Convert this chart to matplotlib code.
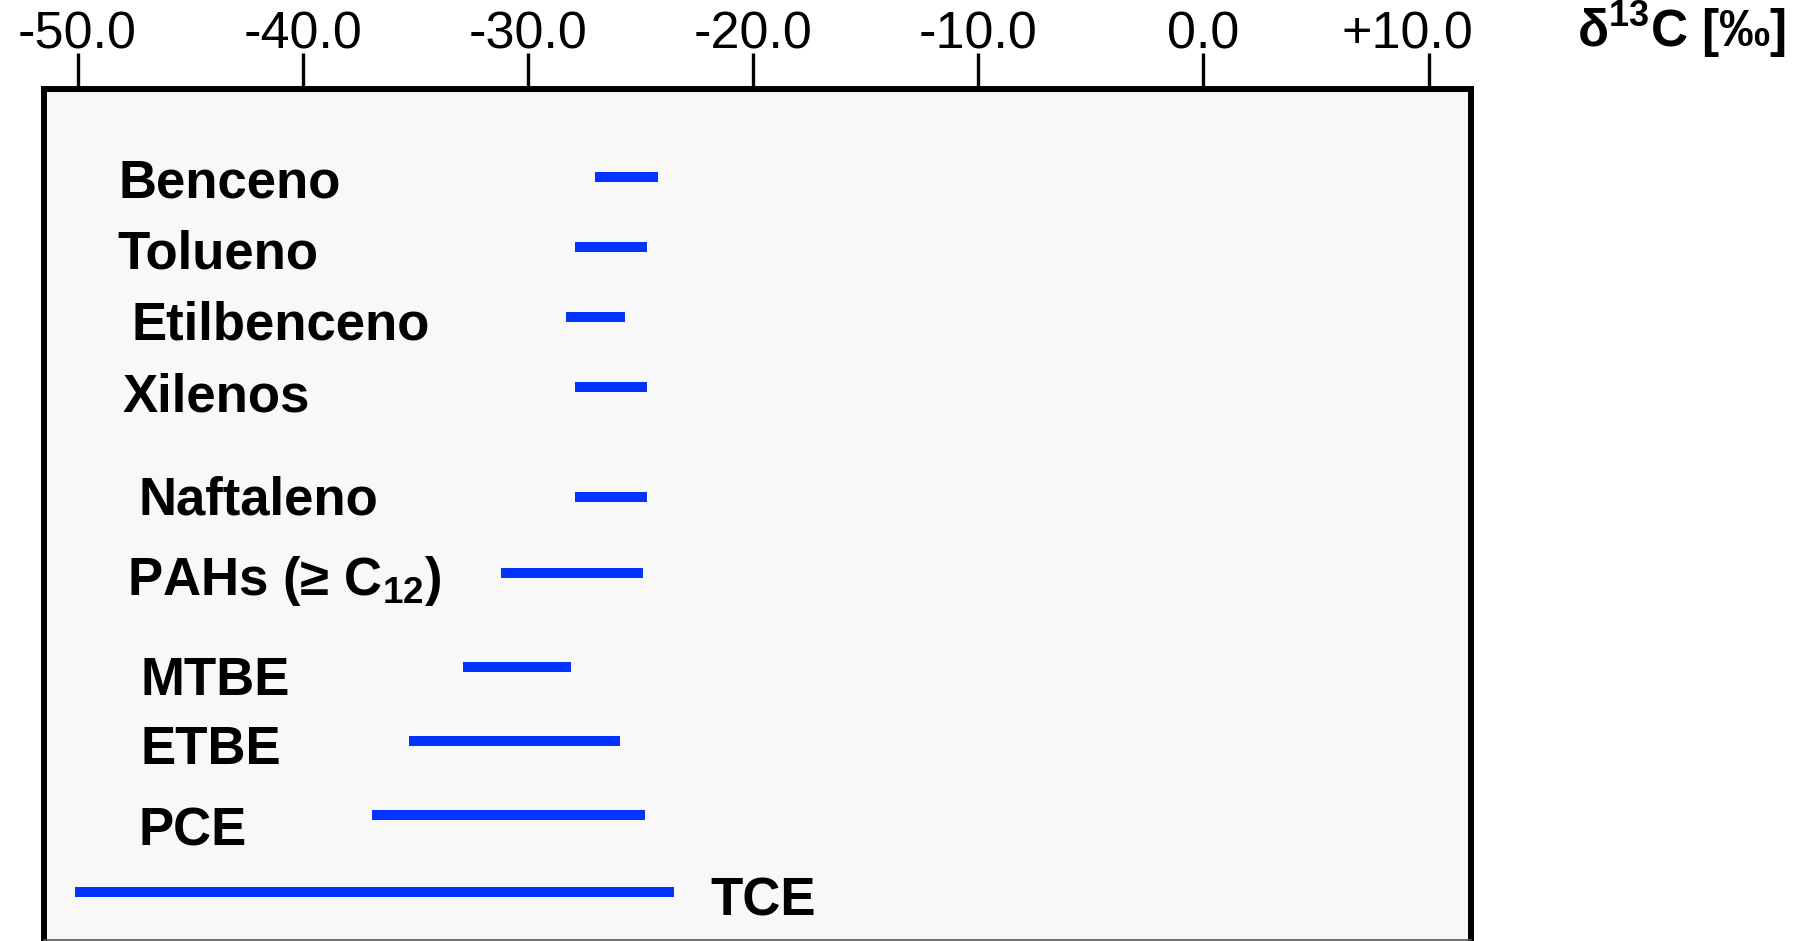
import matplotlib
matplotlib.use("Agg")
import matplotlib.pyplot as plt
import matplotlib.transforms as mtransforms

plt.rcParams["font.family"] = ["Liberation Sans", "DejaVu Sans"]
plt.rcParams["mathtext.fontset"] = "custom"
plt.rcParams["mathtext.rm"] = "Liberation Sans:bold"
plt.rcParams["mathtext.default"] = "rm"

# Compounds and their delta-13C ranges (per mil, VPDB)
compounds = ["Benceno", "Tolueno", "Etilbenceno", "Xilenos", "Naftaleno",
             "PAHs (≥ C$_{12}$)", "MTBE", "ETBE", "PCE", "TCE"]
d13c_min = [-27.0, -27.9, -28.3, -27.9, -27.9, -31.2, -32.9, -35.3, -36.9, -50.1]
d13c_max = [-24.2, -24.7, -25.7, -24.7, -24.7, -24.9, -28.1, -25.9, -24.8, -23.5]

tick_values = [-50, -40, -30, -20, -10, 0, 10]
tick_labels = ["-50.0", "-40.0", "-30.0", "-20.0", "-10.0", "0.0", "+10.0"]

# Vertical layout (row centres / label baselines, axis units from top)
row_y = [87.7, 157.7, 227.7, 298.0, 408.3, 483.7, 578.0, 652.3, 725.7, 803.0]
label_x = [-48.16, -48.23, -47.6, -48.0, -47.3, -47.78, -47.2, -47.2, -47.3, -21.88]
label_base = [108.3, 179.3, 251.0, 322.7, 425.3, 506.0, 606.0, 675.0, 756.7, 826.0]

W, H = 1801, 941
fig = plt.figure(figsize=(W / 100, H / 100), dpi=100)
fig.patch.set_facecolor("white")

ax_left, ax_right, ax_top, ax_bot = 43.5, 1470.5, 89.0, 940.0
ax = fig.add_axes([ax_left / W, 1 - ax_bot / H,
                   (ax_right - ax_left) / W, (ax_bot - ax_top) / H])
ax.set_facecolor("#f8f8f8")

ax.set_xlim(-51.51, 11.86)
ax.set_ylim(ax_bot - ax_top, 0)

bar_color = "#0433ff"
ax.hlines(row_y, d13c_min, d13c_max, colors=bar_color, linewidth=7.2,
          capstyle="butt")

for name, x, yb in zip(compounds, label_x, label_base):
    ax.text(x, yb, name, fontsize=38, fontweight="bold", ha="left",
            va="baseline", color="black")

# Axis styling: ticks and labels on the top only
for side in ["left", "top", "right"]:
    ax.spines[side].set_linewidth(4.3)
    ax.spines[side].set_color("black")
ax.spines["bottom"].set_linewidth(1.2)
ax.spines["bottom"].set_color("#555555")

ax.set_yticks([])
ax.set_xticks(tick_values)
ax.set_xticklabels(tick_labels)
ax.xaxis.tick_top()
ax.tick_params(axis="x", which="major", direction="out", length=26,
               width=2.4, pad=-5.0, labelsize=37.5, color="black",
               labelcolor="black", top=True, bottom=False)

fig.canvas.draw()
last = ax.xaxis.get_major_ticks()[-1].label2
last.set_transform(last.get_transform() +
                   mtransforms.ScaledTranslation(-21 / 100, 0, fig.dpi_scale_trans))

fig.text(1577 / W, 1 - 47 / H, r"δ$^{13}$C [‰]", fontsize=37, fontweight="bold",
         ha="left", va="baseline", color="black")

fig.savefig("out.png", dpi=100, facecolor="white")
